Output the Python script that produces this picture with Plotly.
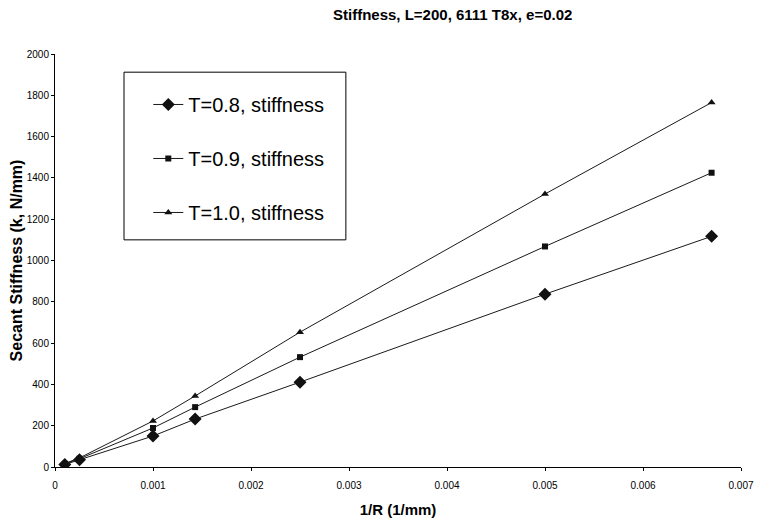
import plotly.graph_objects as go

inv_r = [0.0001, 0.00025, 0.001, 0.00143, 0.0025, 0.005, 0.0067]
k_t08 = [12, 35, 150, 232, 411, 837, 1117]
k_t09 = [15, 40, 189, 290, 532, 1068, 1425]
k_t10 = [17, 44, 223, 344, 653, 1322, 1765]
series_names = ["T=0.8, stiffness", "T=0.9, stiffness", "T=1.0, stiffness"]
x_ticks = [0, 0.001, 0.002, 0.003, 0.004, 0.005, 0.006, 0.007]
x_ticktext = ["0", "0.001", "0.002", "0.003", "0.004", "0.005", "0.006", "0.007"]
y_ticks = list(range(0, 2001, 200))

FONT = "Liberation Sans, Arial, sans-serif"

fig = go.Figure()
specs = [(k_t08, "diamond", 10), (k_t09, "square", 6), (k_t10, "triangle-up", 7)]
for i, ((vals, sym, sz), name) in enumerate(zip(specs, series_names)):
    fig.add_trace(go.Scatter(
        x=inv_r, y=vals, name=name, mode="lines+markers",
        line=dict(color="#1a1a1a", width=1),
        marker=dict(symbol=sym, size=sz, color="#111111"),
        legendgroup=f"g{i}",
    ))

fig.update_layout(
    width=757, height=526,
    margin=dict(l=55, r=16, t=54, b=59, autoexpand=False),
    paper_bgcolor="white", plot_bgcolor="white",
    font=dict(family=FONT, color="black"),
    showlegend=True,
    title=dict(text="<b>Stiffness, L=200, 6111 T8x, e=0.02</b>",
               x=0.598, xanchor="center", y=0.972, yanchor="middle",
               font=dict(size=15, family=FONT, color="black")),
    legend=dict(x=0.136, y=0.925, xanchor="left", yanchor="top",
                bgcolor="rgba(0,0,0,0)", borderwidth=0,
                font=dict(size=20, family=FONT, color="black"),
                tracegroupgap=25, itemwidth=30),
    xaxis=dict(range=[0, 0.007], tickvals=x_ticks, ticktext=x_ticktext,
               automargin=False,
               showgrid=False, zeroline=False, showline=True,
               linecolor="black", linewidth=1, ticks="outside", ticklen=3,
               tickcolor="black", tickfont=dict(size=10, family=FONT),
               ticklabelstandoff=6,
               title=dict(text="<b>1/R (1/mm)</b>", font=dict(size=15, family=FONT),
                          standoff=14)),
    yaxis=dict(range=[0, 2000], tickvals=y_ticks,
               automargin=False,
               showgrid=False, zeroline=False, showline=True,
               linecolor="black", linewidth=1, ticks="outside", ticklen=3,
               tickcolor="black", tickfont=dict(size=10, family=FONT),
               title=dict(text="<b>Secant Stiffness (k, N/mm)</b>",
                          font=dict(size=16, family=FONT), standoff=0)),
    shapes=[dict(type="rect", xref="paper", yref="paper",
                 x0=0.1006, x1=0.424, y0=0.55, y1=0.956,
                 line=dict(color="black", width=1), fillcolor="rgba(0,0,0,0)")],
)

fig.write_html("out.html")
